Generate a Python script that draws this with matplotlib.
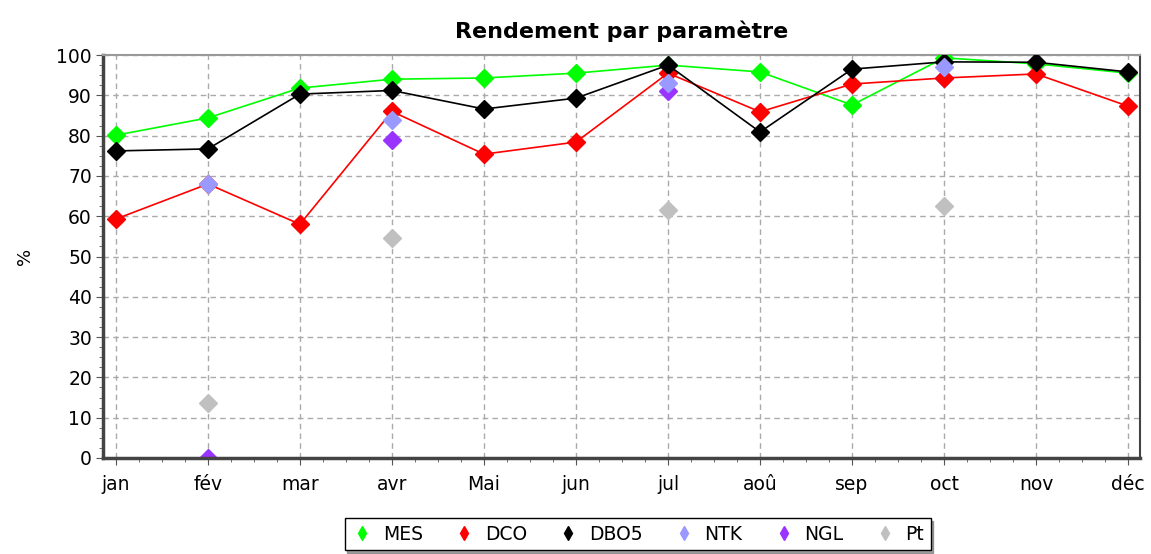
import numpy as np
import matplotlib.pyplot as plt
from matplotlib.lines import Line2D
from matplotlib.ticker import MultipleLocator

mois = ['jan', 'fév', 'mar', 'avr', 'Mai', 'jun', 'jul', 'aoû', 'sep', 'oct', 'nov', 'déc']

mes = [80.1, 84.4, 91.8, 94.0, 94.3, 95.5, 97.5, 95.8, 87.6, 99.3, 97.8, 95.5]
dco = [59.3, 68.0, 58.0, 86.0, 75.4, 78.4, 95.5, 85.9, 92.8, 94.3, 95.3, 87.3]
dbo5 = [76.2, 76.7, 90.3, 91.2, 86.6, 89.3, 97.5, 80.9, 96.5, 98.3, 98.2, 95.8]

# points isoles (mois index, valeur)
ntk_x, ntk = [1, 3, 6, 9], [68.0, 83.9, 93.0, 97.0]
ngl_x, ngl = [1, 3, 6, 9], [0.0, 79.0, 91.0, 94.3]
pt_x, pt = [1, 3, 6, 9], [13.6, 54.6, 61.5, 62.5]

fig = plt.figure(figsize=(11.51, 5.54), dpi=100)
ax = fig.add_axes([0.0895, 0.1733, 0.9010, 0.7274])

x = np.arange(len(mois))
ax.plot(x, mes, c='#00ff00', lw=1.2, marker='D', ms=9.5, zorder=3)
ax.plot(x, dco, c='#ff0000', lw=1.2, marker='D', ms=9.5, zorder=3)
ax.plot(x, dbo5, c='black', lw=1.2, marker='D', ms=9.5, zorder=4)
ax.plot(ntk_x, ntk, ls='none', c='#9999ff', marker='D', ms=9.5, zorder=5)
ax.plot(ngl_x, ngl, ls='none', c='#9933ff', marker='D', ms=9.5, zorder=2)
ax.plot(pt_x, pt, ls='none', c='#c0c0c0', marker='D', ms=9.5, zorder=5)

ax.set_xlim(-0.14, 11.13)
ax.set_ylim(0, 100)
ax.set_xticks(x)
ax.set_xticklabels(mois, fontsize=13.5)
ax.set_yticks(range(0, 101, 10))
ax.tick_params(axis='y', labelsize=13.5)
ax.xaxis.set_minor_locator(MultipleLocator(0.25))
ax.yaxis.set_minor_locator(MultipleLocator(2.5))
ax.tick_params(which='major', length=5, color='#555555', pad=3)
ax.tick_params(axis='x', which='major', pad=7)
ax.tick_params(which='minor', length=3, color='#555555')
ax.grid(True, ls=(0, (4, 3)), color='#aaaaaa', lw=1)
ax.set_axisbelow(True)

for s in ['left', 'bottom']:
    ax.spines[s].set_linewidth(2.5)
    ax.spines[s].set_color('#444444')
ax.spines['top'].set_color('#999999')
ax.spines['top'].set_linewidth(1.5)
ax.spines['right'].set_color('#444444')
ax.spines['right'].set_linewidth(1.5)

ax.set_ylabel('%', fontsize=13, labelpad=16)
ax.set_title('Rendement par paramètre', fontsize=16, fontweight='bold', pad=12)

noms = ['MES', 'DCO', 'DBO5', 'NTK', 'NGL', 'Pt']
couleurs = ['#00ff00', '#ff0000', 'black', '#9999ff', '#9933ff', '#c0c0c0']
handles = [Line2D([], [], ls='none', marker='d', ms=7, c=c) for c in couleurs]
leg = fig.legend(handles, noms, loc='lower center', bbox_to_anchor=(0.554, -0.01), ncol=6,
                 fontsize=13.5, frameon=True, fancybox=False, shadow=True,
                 edgecolor='black', handletextpad=0.5, columnspacing=1.6,
                 borderpad=0.35, handlelength=1.2)
leg.get_frame().set_linewidth(1)

fig.savefig('out.png', dpi=100)
